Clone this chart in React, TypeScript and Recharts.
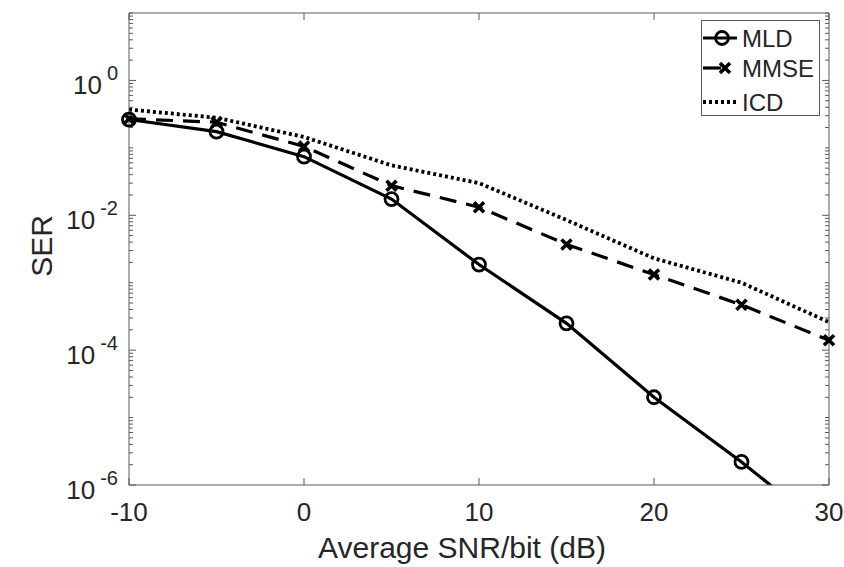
import { LineChart, Line, XAxis, YAxis } from 'recharts';

// SER vs average SNR/bit
const snr = [-10, -5, 0, 5, 10, 15, 20, 25, 30];
const mld = [0.263, 0.174, 0.074, 0.0174, 0.00186, 0.00025, 0.00002, 0.0000022, 0.0000002];
const mmse = [0.27, 0.24, 0.105, 0.0275, 0.0132, 0.0037, 0.00132, 0.00047, 0.00014];
const icd = [0.37, 0.28, 0.145, 0.055, 0.03, 0.0085, 0.0023, 0.001, 0.00026];

const xTicks = [-10, 0, 10, 20, 30];
const yLabelled = [1e-6, 1e-4, 1e-2, 1];
const seriesNames = ['MLD', 'MMSE', 'ICD'];

// log axis ticks: every m * 10^e, minor ones get no label
const yTicks: number[] = [];
for (let e = -6; e <= 0; e++) {
  for (let m = 1; m <= 9; m++) yTicks.push(m * Math.pow(10, e));
}
yTicks.push(10);

const data = snr.map((s, i) => ({ snr: s, mld: mld[i], mmse: mmse[i], icd: icd[i] }));

const FONT = 'Liberation Sans, Arial, Helvetica, sans-serif';
const AXIS = '#5a5a5a';
const TEXT = '#262626';

const isLabelled = (v: number) => yLabelled.some((t) => Math.abs(t - v) / t < 1e-6);

const LeftTick = ({ x, y, payload }: any) => {
  const v = payload.value;
  const major = isLabelled(v);
  const exp = Math.round(Math.log10(v));
  return (
    <g>
      <line x1={x} x2={x + (major ? 7 : 4)} y1={y} y2={y} stroke={AXIS} strokeWidth={1} />
      {major && (
        <text x={x - 11} y={y + 14} textAnchor="end" fontSize={26} fill={TEXT} fontFamily={FONT}>
          10
          <tspan dx={5} dy={-14} fontSize={20}>{String(exp)}</tspan>
        </text>
      )}
    </g>
  );
};

const RightTick = ({ x, y, payload }: any) => {
  const major = isLabelled(payload.value);
  return <line x1={x} x2={x - (major ? 7 : 4)} y1={y} y2={y} stroke={AXIS} strokeWidth={1} />;
};

const BottomTick = ({ x, y, payload }: any) => (
  <g>
    <line x1={x} x2={x} y1={y} y2={y - 7} stroke={AXIS} strokeWidth={1} />
    <text x={x} y={y + 36} textAnchor="middle" fontSize={26} fill={TEXT} fontFamily={FONT}>
      {payload.value}
    </text>
  </g>
);

const TopTick = ({ x, y }: any) => (
  <line x1={x} x2={x} y1={y} y2={y + 7} stroke={AXIS} strokeWidth={1} />
);

const CircleDot = ({ cx, cy, index }: any) => (
  <circle key={`c-${index}`} cx={cx} cy={cy} r={6.5} fill="none" stroke="#000" strokeWidth={2.8} />
);

const CrossDot = ({ cx, cy, index }: any) => (
  <path
    key={`x-${index}`}
    d={`M${cx - 5},${cy - 5}L${cx + 5},${cy + 5}M${cx - 5},${cy + 5}L${cx + 5},${cy - 5}`}
    stroke="#000"
    strokeWidth={3.6}
    fill="none"
  />
);

function LegendBox() {
  const rows = [18, 48, 82];
  return (
    <svg width={120} height={97} style={{ position: 'absolute', left: 701, top: 20 }}>
      <rect x={0.5} y={0.5} width={118} height={95} fill="#fff" stroke={AXIS} strokeWidth={1} />
      {/* MLD */}
      <line x1={2} x2={36} y1={rows[0]} y2={rows[0]} stroke="#000" strokeWidth={3.2} />
      <circle cx={21} cy={rows[0]} r={6.5} fill="none" stroke="#000" strokeWidth={2.8} />
      {/* MMSE */}
      <line x1={2} x2={20} y1={rows[1]} y2={rows[1]} stroke="#000" strokeWidth={3.2} />
      <CrossDot cx={24} cy={rows[1]} index={0} />
      {/* ICD */}
      <line x1={2} x2={36} y1={rows[2]} y2={rows[2]} stroke="#000" strokeWidth={3.8} strokeDasharray="3 3" />
      {seriesNames.map((n, i) => (
        <text key={n} x={41} y={rows[i] + 9} fontSize={24} fill={TEXT} fontFamily={FONT}>
          {n}
        </text>
      ))}
    </svg>
  );
}

export default function App() {
  return (
    <div style={{ position: 'absolute', left: 0, top: 0, width: 844, height: 567, background: '#fff' }}>
      <LineChart
        width={844}
        height={567}
        data={data}
        margin={{ top: 12, right: 0, bottom: 0, left: 0 }}
      >
        <XAxis
          xAxisId="b"
          dataKey="snr"
          type="number"
          domain={[-10, 30]}
          ticks={xTicks}
          interval={0}
          height={82}
          tickSize={0}
          tickMargin={0}
          tickLine={false}
          tick={<BottomTick />}
          axisLine={{ stroke: AXIS, strokeWidth: 1 }}
        />
        <XAxis
          xAxisId="t"
          orientation="top"
          dataKey="snr"
          type="number"
          domain={[-10, 30]}
          ticks={xTicks}
          interval={0}
          height={1}
          tickSize={0}
          tickMargin={0}
          tickLine={false}
          tick={<TopTick />}
          axisLine={{ stroke: AXIS, strokeWidth: 1 }}
        />
        <YAxis
          yAxisId="l"
          scale="log"
          domain={[1e-6, 10]}
          allowDataOverflow
          ticks={yTicks}
          interval={0}
          width={129}
          tickSize={0}
          tickMargin={0}
          tickLine={false}
          tick={<LeftTick />}
          axisLine={{ stroke: AXIS, strokeWidth: 1 }}
        />
        <YAxis
          yAxisId="r"
          orientation="right"
          scale="log"
          domain={[1e-6, 10]}
          allowDataOverflow
          ticks={yTicks}
          interval={0}
          width={15}
          tickSize={0}
          tickMargin={0}
          tickLine={false}
          tick={<RightTick />}
          axisLine={{ stroke: AXIS, strokeWidth: 1 }}
        />
        <Line
          xAxisId="b"
          yAxisId="l"
          dataKey="icd"
          name="ICD"
          stroke="#000"
          strokeWidth={3.8}
          strokeDasharray="3 3"
          dot={false}
          isAnimationActive={false}
        />
        <Line
          xAxisId="b"
          yAxisId="l"
          dataKey="mmse"
          name="MMSE"
          stroke="#000"
          strokeWidth={3.2}
          strokeDasharray="17 10"
          dot={<CrossDot />}
          isAnimationActive={false}
        />
        <Line
          xAxisId="b"
          yAxisId="l"
          dataKey="mld"
          name="MLD"
          stroke="#000"
          strokeWidth={3.2}
          dot={<CircleDot />}
          isAnimationActive={false}
        />
      </LineChart>
      <svg width={844} height={567} style={{ position: 'absolute', left: 0, top: 0, pointerEvents: 'none' }}>
        <text x={462} y={558} textAnchor="middle" fontSize={30} fill={TEXT} fontFamily={FONT}>
          Average SNR/bit (dB)
        </text>
        <text x={52} y={246} transform="rotate(-90 52 246)" textAnchor="middle" fontSize={30} fill={TEXT} fontFamily={FONT}>
          SER
        </text>
      </svg>
      <LegendBox />
    </div>
  );
}
